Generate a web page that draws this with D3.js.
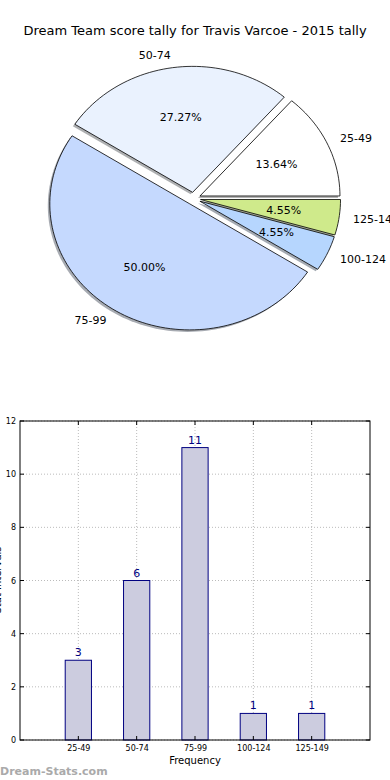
<!DOCTYPE html>
<html><head><meta charset="utf-8">
<script src="https://cdn.jsdelivr.net/npm/d3@7/dist/d3.min.js"></script>
<style>body{margin:0;background:#fff;}svg{display:block;font-family:"DejaVu Sans",sans-serif;}</style>
</head><body>
<svg id="c" width="390" height="780"></svg>
<script>
const categories = ["25-49","50-74","75-99","100-124","125-149"];
const counts = [3,6,11,1,1];
const sliceColors = ["#ffffff","#eaf2fe","#c5d9fe","#b6d6fe","#cfea8b"];
const yTicks = [0,2,4,6,8,10,12];
const title = "Dream Team score tally for Travis Varcoe - 2015 tally";

const svg = d3.select("#c");
svg.append("rect").attr("width",390).attr("height",780).attr("fill","#fff");

svg.append("text").attr("x",195).attr("y",35).attr("text-anchor","middle")
  .attr("font-size",13).text(title);

// ---- Pie (matplotlib-style, counter-clockwise from east, elliptical) ----
const cx = 193.6, cy = 198.6, rx = 140, ry = 126, explode = 0.05;
const total = d3.sum(counts);
const pie = d3.pie().sort(null).value(d=>d)(counts);
const slices = pie.map((p,i)=>{
  const a0 = p.startAngle/(2*Math.PI)*360, a1 = p.endAngle/(2*Math.PI)*360;
  return {i, t0:a0, t1:a1, v:counts[i]};
});
function wedgePath(ox, oy, t0, t1){
  const pts=[[ox,oy]];
  const n=Math.max(4,Math.ceil((t1-t0)/2));
  for(let k=0;k<=n;k++){
    const t=(t0+(t1-t0)*k/n)*Math.PI/180;
    pts.push([ox+rx*Math.cos(t), oy-ry*Math.sin(t)]);
  }
  return "M"+pts.map(p=>p[0].toFixed(2)+","+p[1].toFixed(2)).join("L")+"Z";
}
const gPie = svg.append("g");
slices.forEach(s=>{
  const mid=(s.t0+s.t1)/2*Math.PI/180;
  s.ox = cx + explode*rx*Math.cos(mid);
  s.oy = cy - explode*ry*Math.sin(mid);
  s.mid = mid;
});
slices.forEach(s=>{
  const c = d3.rgb(sliceColors[s.i]);
  gPie.append("path").attr("d",wedgePath(s.ox-2,s.oy+2,s.t0,s.t1))
    .attr("fill",d3.rgb(c.r*0.4,c.g*0.4,c.b*0.4)).attr("fill-opacity",0.5).attr("stroke","none");
});
slices.forEach(s=>{
  gPie.append("path").attr("d",wedgePath(s.ox,s.oy,s.t0,s.t1))
    .attr("fill",sliceColors[s.i]).attr("stroke","#000").attr("stroke-width",0.8)
    .attr("stroke-linejoin","round");
});
slices.forEach(s=>{
  const lx = s.ox + 1.1*rx*Math.cos(s.mid), ly = s.oy - 1.1*ry*Math.sin(s.mid);
  gPie.append("text").attr("x",lx).attr("y",ly).attr("dy","0.35em")
    .attr("text-anchor", Math.cos(s.mid)>0?"start":"end").attr("font-size",11)
    .text(categories[s.i]);
  const px = s.ox + 0.6*rx*Math.cos(s.mid), py = s.oy - 0.6*ry*Math.sin(s.mid);
  gPie.append("text").attr("x",px).attr("y",py).attr("dy","0.35em")
    .attr("text-anchor","middle").attr("font-size",11)
    .text((s.v/total*100).toFixed(2)+"%");
});

// ---- Bar chart ----
const L=20, R=370, T=421, B=740;
const x = d3.scaleLinear().domain([-1,5]).range([L,R]);
const y = d3.scaleLinear().domain([0,12]).range([B,T]);
const gB = svg.append("g");
yTicks.forEach(t=>{
  gB.append("line").attr("x1",L).attr("x2",R).attr("y1",y(t)).attr("y2",y(t))
    .attr("stroke","#bbb").attr("stroke-width",1).attr("stroke-dasharray","1,2");
});
categories.forEach((c,i)=>{
  gB.append("line").attr("x1",x(i)).attr("x2",x(i)).attr("y1",T).attr("y2",B)
    .attr("stroke","#bbb").attr("stroke-width",1).attr("stroke-dasharray","1,2");
});
const bw = 0.45;
categories.forEach((c,i)=>{
  gB.append("rect").attr("x",x(i-bw/2)).attr("y",y(counts[i]))
    .attr("width",x(bw)-x(0)).attr("height",y(0)-y(counts[i]))
    .attr("fill","#ccccdf").attr("stroke","#000080").attr("stroke-width",1);
  gB.append("text").attr("x",x(i)).attr("y",y(counts[i])-4).attr("text-anchor","middle")
    .attr("font-size",11).attr("fill","#000080").text(counts[i]);
});
gB.append("rect").attr("x",L).attr("y",T).attr("width",R-L).attr("height",B-T)
  .attr("fill","none").attr("stroke","#000").attr("stroke-width",1);
const yAxis = d3.axisLeft(y).tickValues(yTicks).tickSize(0).tickPadding(4).tickFormat(d3.format("d"));
const ya = gB.append("g").attr("transform",`translate(${L},0)`).call(yAxis);
ya.select(".domain").remove();
ya.selectAll("text").attr("font-size",8).attr("font-family","DejaVu Sans").attr("fill","#000");
yTicks.forEach(t=>{
  gB.append("line").attr("x1",L).attr("x2",L+4).attr("y1",y(t)).attr("y2",y(t)).attr("stroke","#000");
  gB.append("line").attr("x1",R-4).attr("x2",R).attr("y1",y(t)).attr("y2",y(t)).attr("stroke","#000");
});
const xAxis = d3.axisBottom(x).tickValues(d3.range(categories.length)).tickSize(0).tickPadding(5)
  .tickFormat(i=>categories[i]);
const xa = gB.append("g").attr("transform",`translate(0,${B})`).call(xAxis);
xa.select(".domain").remove();
xa.selectAll("text").attr("font-size",8).attr("font-family","DejaVu Sans").attr("fill","#000");
categories.forEach((c,i)=>{
  gB.append("line").attr("x1",x(i)).attr("x2",x(i)).attr("y1",B-4).attr("y2",B).attr("stroke","#000");
  gB.append("line").attr("x1",x(i)).attr("x2",x(i)).attr("y1",T).attr("y2",T+4).attr("stroke","#000");
});
gB.append("text").attr("x",(L+R)/2).attr("y",764).attr("text-anchor","middle")
  .attr("font-size",10).text("Frequency");
gB.append("text").attr("transform","translate(1,580) rotate(-90)").attr("text-anchor","middle")
  .attr("font-size",10).text("Stat Intervals");
svg.append("text").attr("x",0).attr("y",775).attr("font-size",11).attr("font-weight","bold")
  .attr("fill","#aaa").text("Dream-Stats.com");
</script>
</body></html>
